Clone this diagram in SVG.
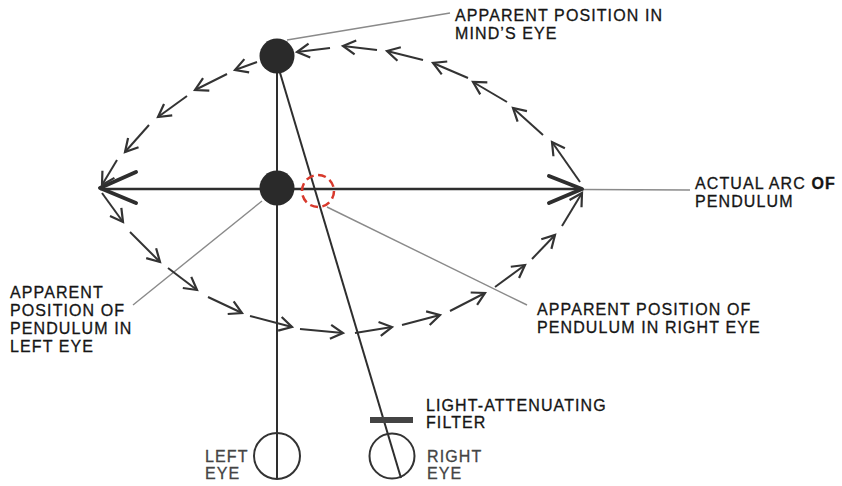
<svg xmlns="http://www.w3.org/2000/svg" width="842" height="486" viewBox="0 0 842 486">
<style>
text{font-family:"Liberation Sans",Arial,sans-serif;font-size:16px;letter-spacing:1.1px;fill:#151515;stroke:#151515;stroke-width:0.3}
.lead{stroke:#8a8a8a;stroke-width:1.4;fill:none}
.main{stroke:#2e2e2e;fill:none}
.dash{stroke:#333;stroke-width:2;fill:none;marker-end:url(#ah)}
.big{stroke:#2e2e2e;stroke-width:4;fill:none;stroke-linecap:round;stroke-linejoin:round}
.ball{fill:#2a2a2a}
.grey{fill:#444;stroke:#444}
</style>
<defs>
<marker id="ah" markerUnits="userSpaceOnUse" markerWidth="30" markerHeight="30" refX="0" refY="0" orient="auto" overflow="visible">
<path d="M-12.5,-7 L0,0 L-12.5,7" fill="none" stroke="#333" stroke-width="2.2" stroke-linejoin="miter"/>
</marker>
</defs>
<rect width="842" height="486" fill="#fff"/>
<g id="connectors">
<line class="main" x1="100" y1="189" x2="582" y2="189" stroke-width="2.5"/>
<line class="lead" x1="582" y1="189.5" x2="690" y2="190"/>
<line class="main" x1="277" y1="56" x2="277" y2="478" stroke-width="2"/>
<line class="main" x1="275" y1="56" x2="401" y2="478" stroke-width="2"/>
<line class="lead" x1="287" y1="40" x2="450" y2="13"/>
<line class="lead" x1="133" y1="305" x2="262" y2="201"/>
<line class="lead" x1="327" y1="207" x2="527" y2="305"/>
<polyline class="big" points="136,172 100,188 136,203"/>
<polyline class="big" points="549,176 582,189 549,203"/>
<path class="dash" d="M580,182 L552,142"/>
<path class="dash" d="M543,135 L513,108"/>
<path class="dash" d="M507,102 L473,82"/>
<path class="dash" d="M468,78 L433,63"/>
<path class="dash" d="M423,60 L387,51"/>
<path class="dash" d="M377,50 L343,46"/>
<path class="dash" d="M330,48 L297,52"/>
<path class="dash" d="M257,62 L235,70"/>
<path class="dash" d="M227,74 L195,90"/>
<path class="dash" d="M187,96 L158,117"/>
<path class="dash" d="M149,125 L125,152"/>
<path class="dash" d="M117,160 L102,185"/>
<path class="dash" d="M102,193 L123,222"/>
<path class="dash" d="M130,232 L160,262"/>
<path class="dash" d="M168,268 L197,290"/>
<path class="dash" d="M208,297 L242,313"/>
<path class="dash" d="M250,316 L292,327"/>
<path class="dash" d="M300,329 L343,333"/>
<path class="dash" d="M355,333 L392,327"/>
<path class="dash" d="M402,325 L440,315"/>
<path class="dash" d="M450,311 L485,293"/>
<path class="dash" d="M495,287 L525,265"/>
<path class="dash" d="M532,259 L555,235"/>
<path class="dash" d="M562,226 L582,193"/>
</g>
<g id="ball-mind"><circle class="ball" cx="277" cy="56" r="17.5"/></g>
<g id="ball-left"><circle class="ball" cx="277" cy="188" r="17.5"/></g>
<g id="ball-right"><circle cx="318" cy="191" r="16" fill="none" stroke="#d8392c" stroke-width="2.5" stroke-dasharray="8 4.5"/></g>
<g id="left-eye"><circle cx="277" cy="456" r="23" fill="none" stroke="#333" stroke-width="2"/>
<text class="grey" x="205" y="462">LEFT</text><text class="grey" x="205" y="479">EYE</text></g>
<g id="right-eye"><circle cx="392" cy="456" r="22.5" fill="none" stroke="#333" stroke-width="2"/>
<text class="grey" x="427" y="462">RIGHT</text><text class="grey" x="427" y="479">EYE</text></g>
<g id="filter"><rect x="370" y="417" width="43" height="6" fill="#444"/>
<text x="426" y="411">LIGHT-ATTENUATING</text><text x="426" y="428">FILTER</text></g>
<g id="label-mind"><text x="455" y="21">APPARENT POSITION IN</text><text x="455" y="39">MIND’S EYE</text></g>
<g id="label-arc"><text x="695" y="189">ACTUAL ARC <tspan font-weight="bold">OF</tspan></text><text x="695" y="207">PENDULUM</text></g>
<g id="label-right"><text x="537" y="315">APPARENT POSITION OF</text><text x="537" y="333">PENDULUM IN RIGHT EYE</text></g>
<g id="label-left"><text x="10" y="298">APPARENT</text><text x="10" y="316">POSITION OF</text><text x="10" y="334">PENDULUM IN</text><text x="10" y="352">LEFT EYE</text></g>
</svg>
